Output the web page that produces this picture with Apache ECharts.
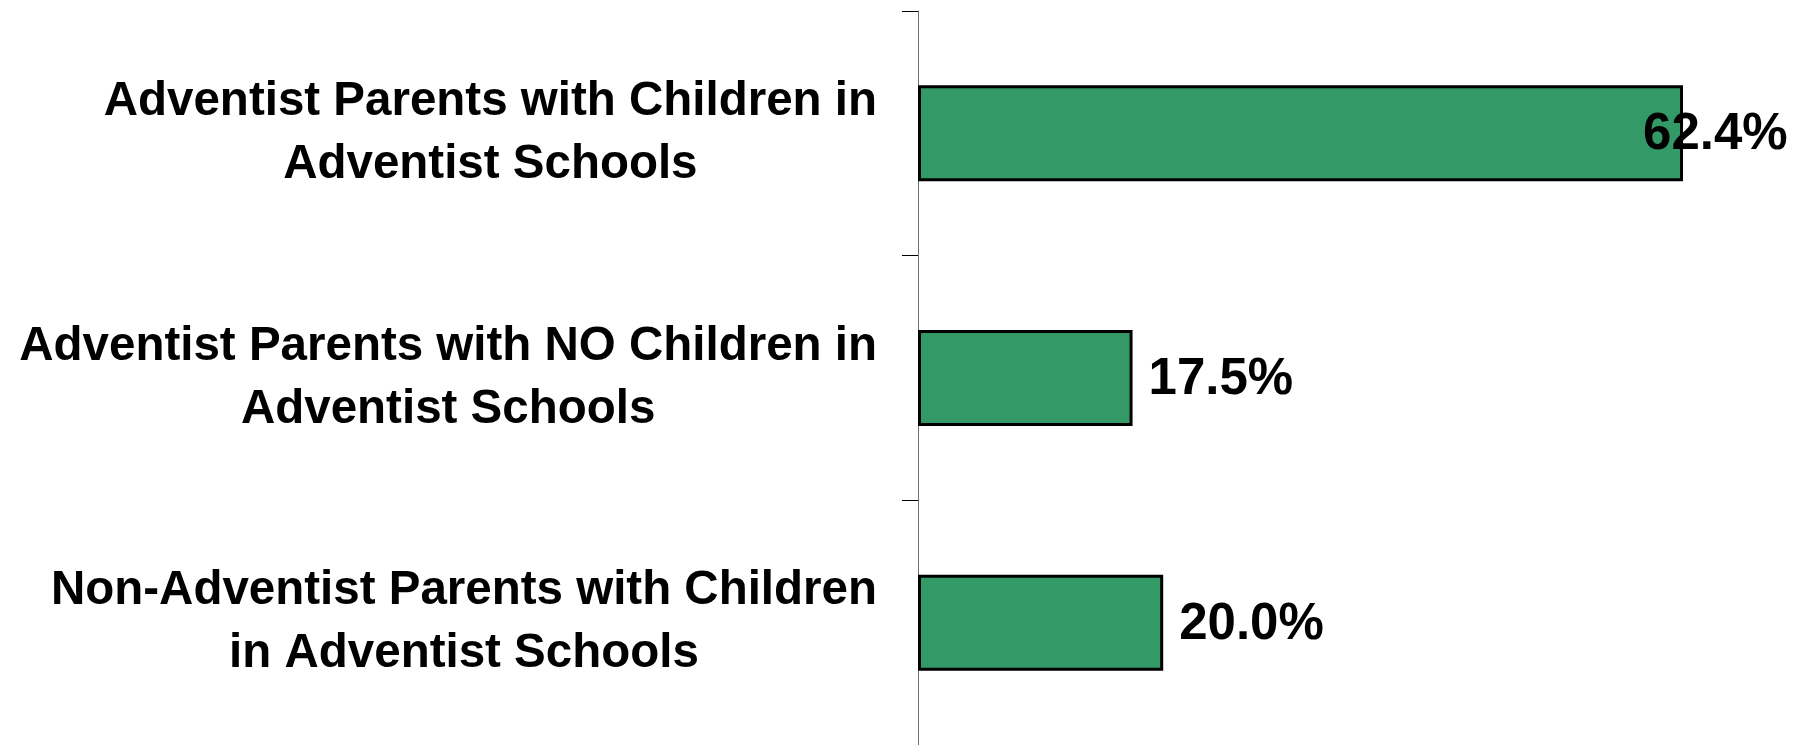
<!DOCTYPE html>
<html>
<head>
<meta charset="utf-8">
<title>Parents with children in Adventist schools</title>
<script src="https://cdn.jsdelivr.net/npm/echarts@6/dist/echarts.min.js"></script>
<style>
  html, body { margin: 0; padding: 0; background: #ffffff; }
  #chart { width: 1809px; height: 745px; }
</style>
</head>
<body>
<div id="chart"></div>
<script>
// Respondent groups, top to bottom (each label split onto two lines)
const categories = [
  'Adventist Parents with Children in\nAdventist Schools',
  'Adventist Parents with NO Children in\nAdventist Schools',
  'Non-Adventist Parents with Children\nin Adventist Schools'
];

// Share of respondents in each group (percent)
const shares = [62.4, 17.5, 20.0];

const FONT = '"Liberation Sans", Arial, Helvetica, sans-serif';

// The longest bar's label is pulled back over the bar's end so it stays in view
const seriesData = shares.map((v, i) => {
  const item = { value: v };
  if (i === 0) item.label = { distance: -40 };
  return item;
});

const chart = echarts.init(document.getElementById('chart'), null, { renderer: 'canvas' });

chart.setOption({
  animation: false,
  backgroundColor: '#ffffff',
  grid: { left: 918, right: 32.8, top: 11, bottom: -1.5, containLabel: false },
  xAxis: {
    type: 'value',
    min: 0,
    max: 70,
    show: false,
    splitLine: { show: false }
  },
  yAxis: {
    type: 'category',
    inverse: true,
    data: categories,
    axisLine: { show: true, lineStyle: { color: '#707070', width: 1 } },
    axisTick: { show: true, length: 16, lineStyle: { color: '#000000', width: 1 } },
    axisLabel: {
      margin: 41,
      align: 'right',
      // every line centred within the right-aligned label block
      formatter: (txt) => txt.split('\n').map(s => '{c|' + s + '}').join('\n'),
      rich: {
        c: {
          align: 'center',
          fontFamily: FONT,
          fontWeight: 'bold',
          fontSize: 47.5,
          lineHeight: 63,
          color: '#000000'
        }
      }
    },
    splitLine: { show: false }
  },
  series: [{
    type: 'bar',
    data: seriesData,
    barWidth: 96,
    itemStyle: {
      color: '#339966',
      borderColor: '#000000',
      borderWidth: 3
    },
    label: {
      show: true,
      position: 'right',
      distance: 16,
      offset: [0, 2],
      formatter: (p) => p.value.toFixed(1) + '%',
      fontFamily: FONT,
      fontWeight: 'bold',
      fontSize: 51,
      color: '#000000'
    }
  }]
});
</script>
</body>
</html>
